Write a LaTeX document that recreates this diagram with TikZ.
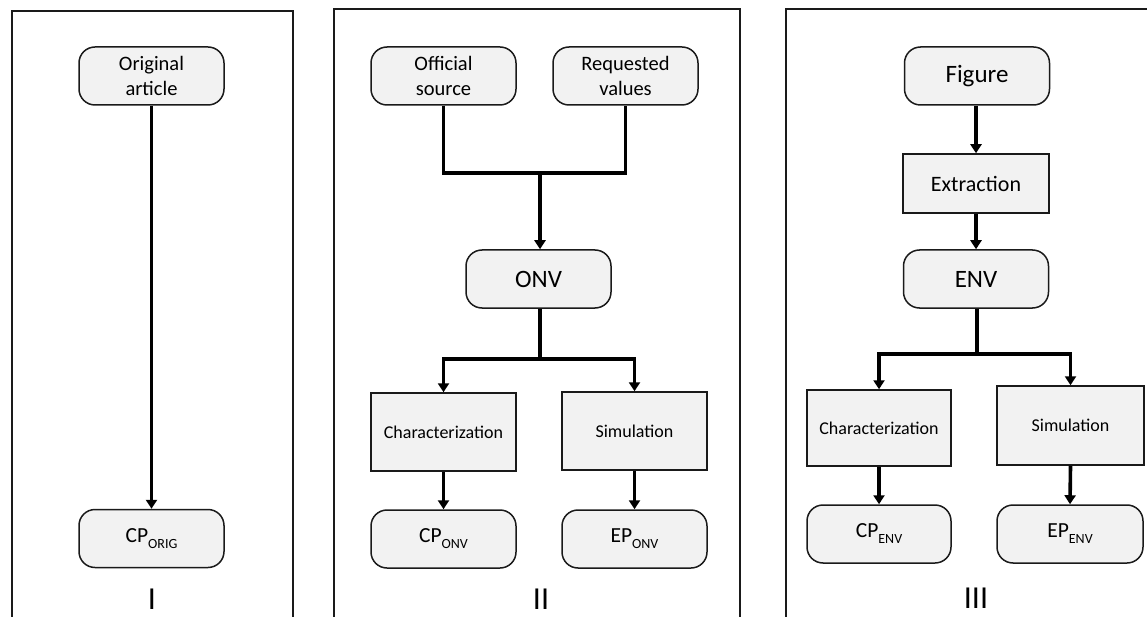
\documentclass[tikz,border=0pt]{standalone}
\usepackage{fontspec}
\setmainfont{Carlito}
\usetikzlibrary{arrows.meta}
\definecolor{boxfill}{HTML}{F2F2F2}
\definecolor{edge}{HTML}{1A1A1A}
\tikzset{
  rbox/.style={draw=edge, fill=boxfill, rounded corners=16pt, line width=1.5pt,
    minimum width=145pt, minimum height=58pt, inner sep=0pt, align=center,
    font=\fontsize{20.5}{25}\selectfont},
  bigtxt/.style={font=\fontsize{25}{30}\selectfont},
  cptxt/.style={font=\fontsize{21.5}{26}\selectfont},
  sbox/.style={draw=edge, fill=boxfill, line width=1.5pt, inner sep=0pt, align=center,
    font=\fontsize{18}{22}\selectfont},
  conn/.style={line width=3.6pt},
  arr/.style={line width=3.6pt, -{Triangle[width=11pt,length=9pt]}},
  frame/.style={line width=1.3pt, draw=edge},
  numeral/.style={font=\fontsize{32}{36}\selectfont, inner sep=0pt, anchor=base}
}
\newcommand{\sbs}[1]{\raisebox{-6pt}{\fontsize{14}{14}\selectfont #1}}
\begin{document}
\begin{tikzpicture}[x=1pt,y=-1pt]
\useasboundingbox (0,0) rectangle (1147,617);
% frames
\draw[frame] (12,617) -- (12,11) -- (293,11) -- (293,617);
\draw[frame] (334,617) -- (334,9) -- (740,9) -- (740,617);
\draw[frame] (786,617) -- (786,9) -- (1150,9);
% Panel I
\node[rbox] (orig) at (151.5,76) {Original\\article};
\node[rbox, cptxt] (cporig) at (151.5,538.5) {CP\sbs{ORIG}};
\draw[arr] (orig.south) -- (cporig.north);
\node[numeral] (n1) at (152,609) {I};
% Panel II
\node[rbox] (os) at (443.5,76) {Official\\source};
\node[rbox] (rv) at (625.5,76) {Requested\\values};
\node[rbox, bigtxt] (onv) at (538.5,279) {ONV};
\node[sbox, minimum width=145pt, minimum height=78pt] (char2) at (443.5,432) {Characterization};
\node[sbox, minimum width=145pt, minimum height=78pt] (sim2) at (634.5,431) {Simulation};
\node[rbox, cptxt] (cponv) at (443.5,539) {CP\sbs{ONV}};
\node[rbox, cptxt] (eponv) at (634.5,539) {EP\sbs{ONV}};
\coordinate (j2) at (540,173);
\coordinate (s2) at (540,359);
\draw[conn] (os.south) |- (j2) -| (rv.south);
\draw[arr] (j2) -- (j2 |- onv.north);
\draw[conn] (s2 |- onv.south) -- (s2);
\draw[arr] (s2) -| (char2.north);
\draw[arr] (s2) -| (sim2.north);
\draw[arr] (char2.south) -- (cponv.north);
\draw[arr] (sim2.south) -- (eponv.north);
\node[numeral] (n2) at (541,609) {II};
% Panel III
\node[rbox, bigtxt] (fig) at (977,76) {Figure};
\node[sbox, minimum width=146pt, minimum height=59pt, font=\fontsize{22}{26}\selectfont] (ext) at (976,183.5) {Extraction};
\node[rbox, bigtxt] (env) at (976,279) {ENV};
\node[sbox, minimum width=144pt, minimum height=76pt] (char3) at (879,428) {Characterization};
\node[sbox, minimum width=147pt, minimum height=79pt] (sim3) at (1070.5,425.5) {Simulation};
\node[rbox, cptxt, minimum width=144pt] (cpenv) at (879,534) {CP\sbs{ENV}};
\node[rbox, cptxt, minimum width=146pt] (epenv) at (1070,534) {EP\sbs{ENV}};
\coordinate (s3) at (977,354);
\draw[arr] (fig.south -| ext.north) -- (ext.north);
\draw[arr] (ext.south) -- (env.north);
\draw[conn] (s3 |- env.south) -- (s3);
\draw[arr] (s3) -| (char3.north);
\draw[arr] (s3) -| (sim3.north);
\draw[arr] (char3.south) -- (cpenv.north);
\draw[arr] (sim3.south) -- (epenv.north);
\node[numeral] (n3) at (976,608) {III};
\end{tikzpicture}
\end{document}
